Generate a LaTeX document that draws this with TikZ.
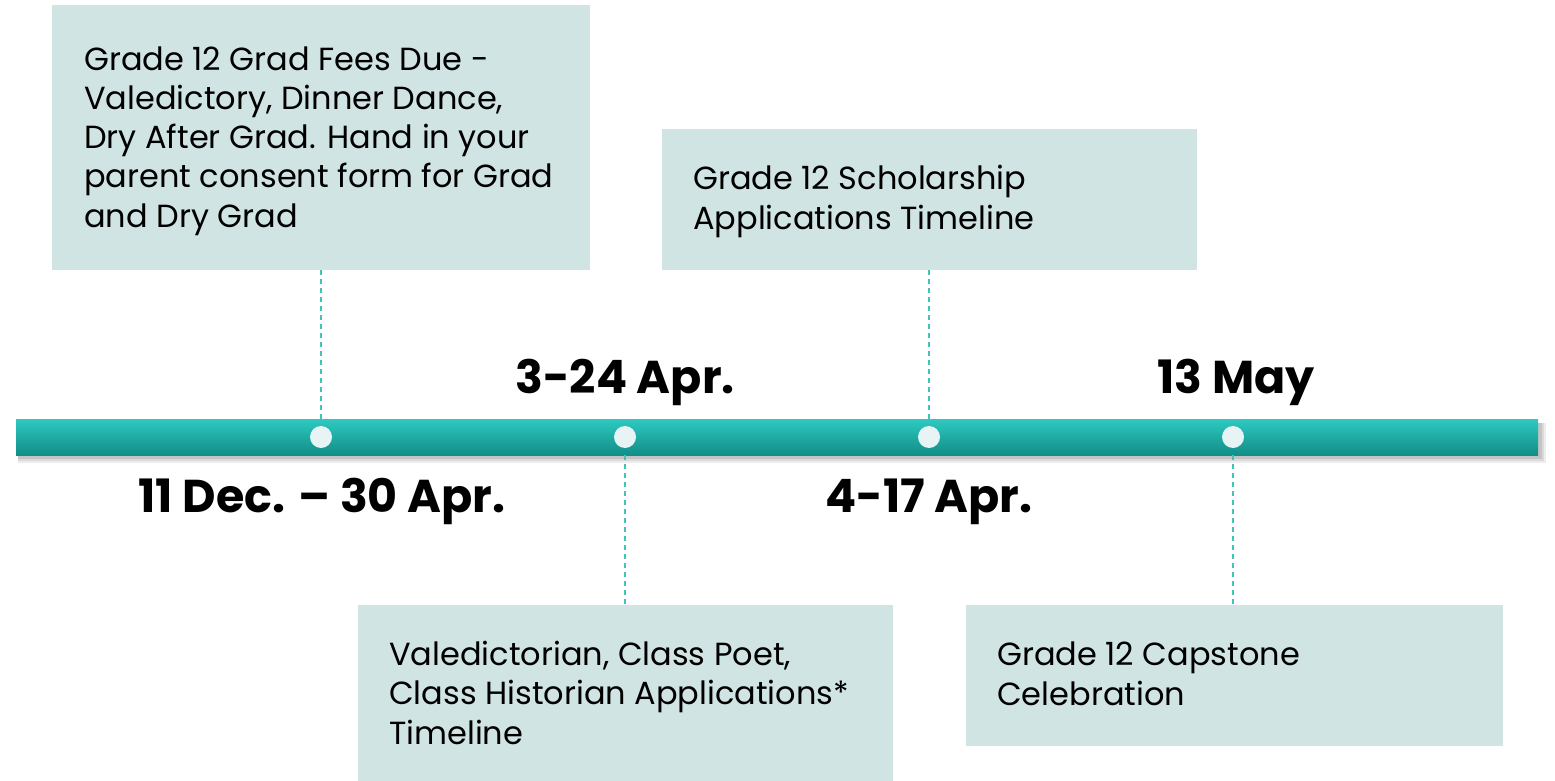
\documentclass[tikz,border=0pt]{standalone}
\usepackage{fontspec}
\setmainfont{Poppins}
\definecolor{boxfill}{HTML}{D0E4E3}
\definecolor{bartop}{HTML}{2EC9C1}
\definecolor{barbot}{HTML}{118D87}
\definecolor{dotfill}{HTML}{E6F4F4}
\definecolor{dashcol}{HTML}{45C1BC}
\tikzset{
  box/.style={rectangle, fill=boxfill, inner sep=0pt, anchor=north west},
  txt/.style={inner sep=0pt, anchor=base west, align=left, font=\fontsize{32pt}{39.25pt}\selectfont, text=black},
  datelbl/.style={inner sep=0pt, anchor=base, font=\fontsize{46pt}{52pt}\selectfont\bfseries, text=black},
  dot/.style={circle, fill=dotfill, inner sep=0pt, minimum size=22pt},
  link/.style={draw=dashcol, line width=2pt, dash pattern=on 5pt off 4pt},
}
\begin{document}
\begin{tikzpicture}[x=1pt,y=-1pt]
\useasboundingbox (0,0) rectangle (1555,781);
% boxes
\node[box, minimum width=538pt, minimum height=265pt] (b1) at (52,5) {};
\node[box, minimum width=535pt, minimum height=141pt] (b2) at (662,129) {};
\node[box, minimum width=535pt, minimum height=176pt] (b3) at (358,605) {};
\node[box, minimum width=537pt, minimum height=141pt] (b4) at (966,605) {};
% texts (base anchor = baseline of the last line)
\node[txt] (t1) at (84,227) {Grade 12 Grad Fees Due -\\Valedictory, Dinner Dance,\\Dry After Grad. Hand in your\\parent consent form for Grad\\and Dry Grad};
\node[txt] (t2) at (693,229) {Grade 12 Scholarship\\Applications Timeline};
\node[txt] (t3) at (389,744) {Valedictorian, Class Poet,\\Class Historian Applications*\\Timeline};
\node[txt] (t4) at (997,705) {Grade 12 Capstone\\Celebration};
% bar shadow
\fill[black, opacity=0.07] (18,423) rectangle (1546,463);
\fill[black, opacity=0.08] (18,423) rectangle (1544,461);
\fill[black, opacity=0.10] (18,423) rectangle (1542,459);
% bar
\node[rectangle, inner sep=0pt, minimum width=1522pt, minimum height=36pt, anchor=north west, top color=bartop, bottom color=barbot] (bar) at (16,419) {};
% dots
\node[dot] (d1) at (321,437) {};
\node[dot] (d2) at (625,437) {};
\node[dot] (d3) at (929,437) {};
\node[dot] (d4) at (1233,437) {};
% connectors
\draw[link] (b1.south -| d1) -- (d1 |- bar.north);
\draw[link] (b2.south -| d3) -- (d3 |- bar.north);
\draw[link] (d2 |- bar.south) -- (b3.north -| d2);
\draw[link] (d4 |- bar.south) -- (b4.north -| d4);
% dates
\node[datelbl] (l2) at (625,393) {3-24 Apr.};
\node[datelbl] (l4) at (1236,393) {13 May};
\node[datelbl] (l1) at (322,512) {11 Dec. – 30 Apr.};
\node[datelbl] (l3) at (929,512) {4-17 Apr.};
\end{tikzpicture}
\end{document}
